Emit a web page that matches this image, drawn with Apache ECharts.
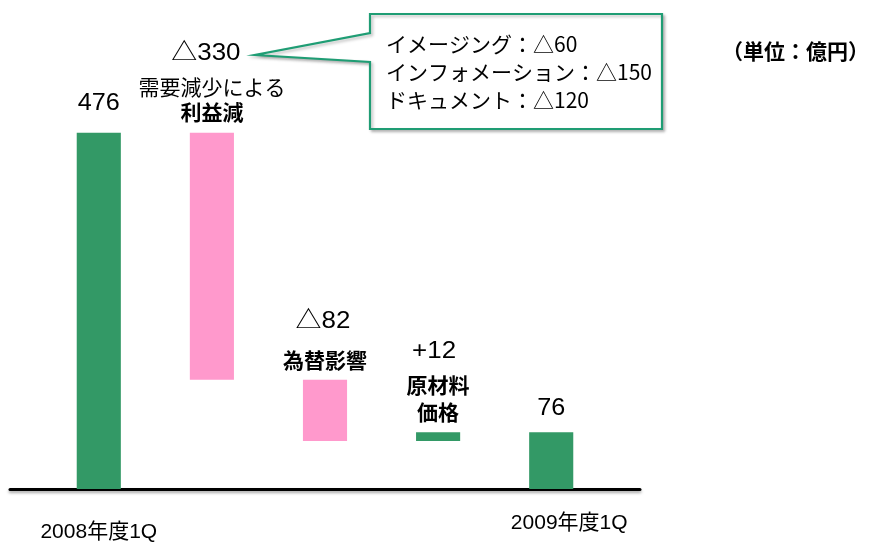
<!DOCTYPE html>
<html>
<head>
<meta charset="utf-8">
<script src="https://cdn.jsdelivr.net/npm/echarts@6/dist/echarts.min.js"></script>
<style>
  html, body { margin: 0; padding: 0; background: #fff; }
  #chart { width: 870px; height: 543px; }
</style>
</head>
<body>
<div id="chart"></div>
<script>
// Operating profit bridge, 2008 Q1 -> 2009 Q1 (units: 100M yen)
const categories = ['2008年度1Q', '需要減少による\n利益減', '為替影響', '原材料\n価格', '2009年度1Q'];
const startValue = 476;
const deltas = [-330, -82, 12];
const endValue = 76;
const breakdownLines = ['イメージング：△60', 'インフォメーション：△150', 'ドキュメント：△120'];
const unitNote = '（単位：億円）';

const GREEN = '#339966';
const PINK = '#ff99cc';
const LINE_GREEN = '#1f9d74';
const LATIN = '"Liberation Sans", "Noto Sans CJK JP", sans-serif';
const CJK = '"Noto Sans CJK JP", sans-serif';

// Build [index, low, high, value, isTotal] rows for the bridge
const rows = [];
let running = startValue;
rows.push([0, 0, startValue, startValue, 1]);
deltas.forEach((d, i) => {
  const next = running + d;
  rows.push([i + 1, Math.min(running, next), Math.max(running, next), d, 0]);
  running = next;
});
rows.push([deltas.length + 1, 0, endValue, endValue, 1]);

function valueText(v, isTotal) {
  if (isTotal) return String(v);
  return v < 0 ? '△' + Math.abs(v) : '+' + v;
}

// Label spacing per bar (px): gap from bar top to the lowest caption line,
// spacing between caption lines, gap from first caption line to the value,
// horizontal nudge of the value text, and weight of each caption line.
const labelLayout = {
  0: { valueGap: 29, valueDx: 0 },
  1: { descGap: 21, lineGap: 25, valueGap: 33, valueDx: -6, weights: ['normal', 'bold'] },
  2: { descGap: 20, lineGap: 26, valueGap: 38, valueDx: -2, weights: ['bold'] },
  3: { descGap: 20.5, lineGap: 26.5, valueGap: 34, valueDx: -4, weights: ['bold', 'bold'] },
  4: { valueGap: 24, valueDx: 0 }
};
// Offsets for the period captions under the axis (x, y from bar foot)
const captionOffset = { 0: [0, 43], 4: [18, 34] };

function renderItem(params, api) {
  const idx = api.value(0);
  const lo = api.value(1), hi = api.value(2), v = api.value(3), isTotal = api.value(4) === 1;
  const pLo = api.coord([idx, lo]);
  const pHi = api.coord([idx, hi]);
  const w = api.size([0.39, 0])[0];
  const lay = labelLayout[idx];
  const children = [{
    type: 'rect',
    shape: { x: pHi[0] - w / 2, y: pHi[1], width: w, height: pLo[1] - pHi[1] },
    style: { fill: (isTotal || v > 0) ? GREEN : PINK }
  }];
  const cx = pHi[0];
  const vx = cx + lay.valueDx;
  if (isTotal) {
    children.push({
      type: 'text',
      style: { text: valueText(v, true), x: vx, y: pHi[1] - lay.valueGap, align: 'center', verticalAlign: 'middle',
               font: '24px ' + LATIN, fill: '#000' },
      scaleX: 1.05, originX: vx
    });
    const off = captionOffset[idx] || [0, 36];
    children.push({
      type: 'text',
      style: { text: categories[idx], x: cx + off[0], y: pLo[1] + off[1], align: 'center', verticalAlign: 'middle',
               font: '21px ' + LATIN, fill: '#000' }
    });
  } else {
    const lines = categories[idx].split('\n');
    let y = pHi[1] - lay.descGap;
    for (let k = lines.length - 1; k >= 0; k--) {
      children.push({
        type: 'text',
        style: { text: lines[k], x: cx, y: y, align: 'center', verticalAlign: 'middle',
                 font: lay.weights[k] + ' 21px ' + CJK, fill: '#000' }
      });
      if (k > 0) y -= lay.lineGap;
    }
    children.push({
      type: 'text',
      style: { text: valueText(v, false), x: vx, y: y - lay.valueGap, align: 'center', verticalAlign: 'middle',
               font: '24px ' + LATIN, fill: '#000' },
      scaleX: 1.08, originX: vx
    });
  }
  return { type: 'group', children: children };
}

const chart = echarts.init(document.getElementById('chart'), null, { renderer: 'canvas' });
chart.setOption({
  animation: false,
  backgroundColor: '#fff',
  grid: { left: 10, right: 230, top: 40, bottom: 54 },
  xAxis: {
    type: 'value', min: -0.785, max: 4.785,
    axisLine: { show: true, onZero: true,
      lineStyle: { color: '#000', width: 3, shadowColor: 'rgba(0,0,0,0.35)', shadowBlur: 3, shadowOffsetY: 2 } },
    axisTick: { show: false }, axisLabel: { show: false }, splitLine: { show: false }
  },
  yAxis: {
    type: 'value', min: 0, max: 600, show: false, splitLine: { show: false }
  },
  series: [{
    type: 'custom',
    renderItem: renderItem,
    encode: { x: 0, y: [1, 2] },
    data: rows,
    z: 3
  }],
  graphic: [
    {
      type: 'polygon',
      shape: { points: [[370, 14], [662, 14], [662, 129], [370, 129], [370, 62], [255, 55], [370, 33]] },
      style: { fill: '#fff', stroke: LINE_GREEN, lineWidth: 2.2,
               shadowColor: 'rgba(0,0,0,0.25)', shadowBlur: 3, shadowOffsetX: 2, shadowOffsetY: 2 },
      z: 10
    },
    {
      type: 'text',
      left: 386, top: 30,
      style: { text: breakdownLines.join('\n'), font: '21px ' + CJK, lineHeight: 28, fill: '#000' },
      z: 11
    },
    {
      type: 'text',
      left: 722, top: 41,
      style: { text: unitNote, font: 'bold 21px ' + CJK, fill: '#000' },
      z: 11
    }
  ]
});
</script>
</body>
</html>
